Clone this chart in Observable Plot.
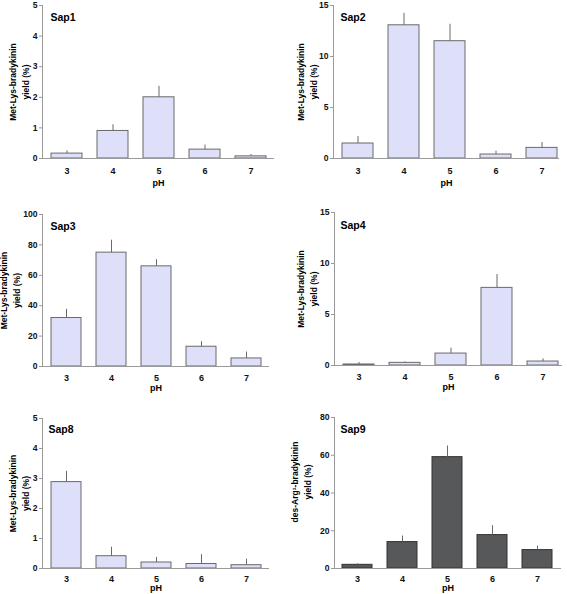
<!DOCTYPE html>
<html>
<head>
<meta charset="utf-8">
<script src="https://cdn.jsdelivr.net/npm/d3@7"></script>
<script src="https://cdn.jsdelivr.net/npm/@observablehq/plot@0.6"></script>
<style>
  html, body { margin: 0; padding: 0; background: #fff; }
  #wrap { position: relative; width: 567px; height: 594px; overflow: hidden; background: #fff; }
  .panel { position: absolute; }
  .panel svg { overflow: visible; }
</style>
</head>
<body>
<div id="wrap"></div>
<script>
// ---- data ----
const phLabels = ["3", "4", "5", "6", "7"];

const sap1Mean = [0.16, 0.9, 2.0, 0.29, 0.07];
const sap1Err  = [0.09, 0.2, 0.36, 0.15, 0.06];

const sap2Mean = [1.47, 13.06, 11.5, 0.39, 1.04];
const sap2Err  = [0.68, 1.17, 1.66, 0.33, 0.52];

const sap3Mean = [31.9, 74.9, 65.9, 13.0, 5.3];
const sap3Err  = [5.7, 8.2, 4.4, 3.3, 4.2];

const sap4Mean = [0.1, 0.26, 1.17, 7.61, 0.39];
const sap4Err  = [0.2, 0.1, 0.52, 1.31, 0.26];

const sap8Mean = [2.88, 0.41, 0.2, 0.15, 0.11];
const sap8Err  = [0.36, 0.3, 0.17, 0.31, 0.2];

const sap9Mean = [1.95, 14.0, 59.0, 17.7, 9.75];
const sap9Err  = [0.55, 3.2, 5.9, 5.0, 2.15];

const ticks5  = [0, 1, 2, 3, 4, 5];
const ticks15 = [0, 5, 10, 15];
const ticks100 = [0, 20, 40, 60, 80, 100];
const ticks80 = [0, 20, 40, 60, 80];

const labelMLB = "Met-Lys-bradykinin\nyield (%)";
const labelDAB = "des-Arg\u00b9-bradykinin\nyield (%)";

// ---- panels (layout) ----
const panels = [
  {name: "Sap1", mean: sap1Mean, err: sap1Err, ticks: ticks5, max: 5, ylabel: labelMLB, dark: false,
   left: 0, top: 0, w: 283, h: 195, mt: 5, mb: 37, ml: 42, mr: 9, xr: [42.9, 274.2],
   nameDx: 8, nameDy: 12, ylDx: -24, ylDy: 0, tickPad: 9, phDy: 25},
  {name: "Sap2", mean: sap2Mean, err: sap2Err, ticks: ticks15, max: 15, ylabel: labelMLB, dark: false,
   left: 285, top: 0, w: 282, h: 195, mt: 5, mb: 37, ml: 48, mr: 8, xr: [49.4, 280.4],
   nameDx: 7, nameDy: 12, ylDx: -27, ylDy: 0, tickPad: 9, phDy: 25},
  {name: "Sap3", mean: sap3Mean, err: sap3Err, ticks: ticks100, max: 100, ylabel: labelMLB, dark: false,
   left: 0, top: 195, w: 283, h: 197, mt: 19, mb: 26, ml: 42, mr: 14, xr: [43.4, 269.6],
   nameDx: 8, nameDy: 12, ylDx: -33, ylDy: 0, tickPad: 8, phDy: 21.5},
  {name: "Sap4", mean: sap4Mean, err: sap4Err, ticks: ticks15, max: 15, ylabel: labelMLB, dark: false,
   left: 285, top: 195, w: 282, h: 197, mt: 17, mb: 27, ml: 49, mr: 5, xr: [50, 280],
   nameDx: 6, nameDy: 13, ylDx: -28, ylDy: 0, tickPad: 8, phDy: 21.5},
  {name: "Sap8", mean: sap8Mean, err: sap8Err, ticks: ticks5, max: 5, ylabel: labelMLB, dark: false,
   left: 0, top: 392, w: 283, h: 202, mt: 26, mb: 26, ml: 42, mr: 14, xr: [43.5, 268.5],
   nameDx: 6, nameDy: 11, ylDx: -24, ylDy: 0, tickPad: 7, phDy: 19.5},
  {name: "Sap9", mean: sap9Mean, err: sap9Err, ticks: ticks80, max: 80, ylabel: labelDAB, dark: true,
   left: 285, top: 392, w: 282, h: 202, mt: 25, mb: 26, ml: 49, mr: 6, xr: [49.4, 275.6],
   nameDx: 6, nameDy: 12, ylDx: -34, ylDy: -11, tickPad: 7, phDy: 19.5}
];

const FONT = "'Liberation Sans', Arial, Helvetica, sans-serif";
const wrap = document.getElementById("wrap");

for (const p of panels) {
  const data = phLabels.map((ph, i) => ({ph, v: p.mean[i], hi: p.mean[i] + p.err[i]}));
  const fill = p.dark ? "#57585a" : "#dedff9";
  const stroke = p.dark ? "#333333" : "#6a6a6a";
  const chart = Plot.plot({
    width: p.w,
    height: p.h,
    marginTop: p.mt,
    marginBottom: p.mb,
    marginLeft: p.ml,
    marginRight: p.mr,
    style: {fontFamily: FONT, fontWeight: "bold", fontSize: "8.6px", color: "#111", background: "transparent", overflow: "visible"},
    x: {type: "band", domain: phLabels, range: p.xr, paddingInner: 0.33, paddingOuter: 0.165, align: 0.5},
    y: {type: "linear", domain: [0, p.max]},
    marks: [
      Plot.barY(data, {x: "ph", y: "v", fill, stroke, strokeWidth: 1}),
      Plot.ruleX(data, {x: "ph", y1: "v", y2: "hi", stroke: "#6a6a6a", strokeWidth: 1}),
      Plot.ruleY(data, {x: "ph", y: "hi", stroke: "#6a6a6a", strokeWidth: 1, insetLeft: 6, insetRight: 6}),
      Plot.frame({anchor: "left", stroke: "#9a9a9a", strokeWidth: 1}),
      Plot.ruleY([0], {stroke: "#9a9a9a", strokeWidth: 1}),
      Plot.axisY({ticks: p.ticks, tickFormat: (d) => String(d), tickSize: 3, tickPadding: 2, stroke: "#9a9a9a", fill: "#111", label: null, fontSize: 8.6, fontWeight: "bold"}),
      Plot.axisX({tickSize: 0, tickPadding: p.tickPad, label: null, fill: "#111", fontSize: 9, fontWeight: "bold"}),
      Plot.text([p.name], {frameAnchor: "top-left", textAnchor: "start", lineAnchor: "middle", dx: p.nameDx, dy: p.nameDy, fontSize: 10.5, fontWeight: "bold", fill: "#000"}),
      Plot.text([p.ylabel], {frameAnchor: "left", rotate: -90, textAnchor: "middle", lineAnchor: "middle", dx: p.ylDx, dy: p.ylDy, fontSize: 8.5, lineHeight: 1.45, fontWeight: "bold", fill: "#000"}),
      Plot.text(["pH"], {frameAnchor: "bottom", lineAnchor: "middle", dy: p.phDy, fontSize: 9, fontWeight: "bold", fill: "#000"})
    ]
  });
  const div = document.createElement("div");
  div.className = "panel";
  div.style.left = p.left + "px";
  div.style.top = p.top + "px";
  div.appendChild(chart);
  wrap.appendChild(div);
}
</script>
</body>
</html>
